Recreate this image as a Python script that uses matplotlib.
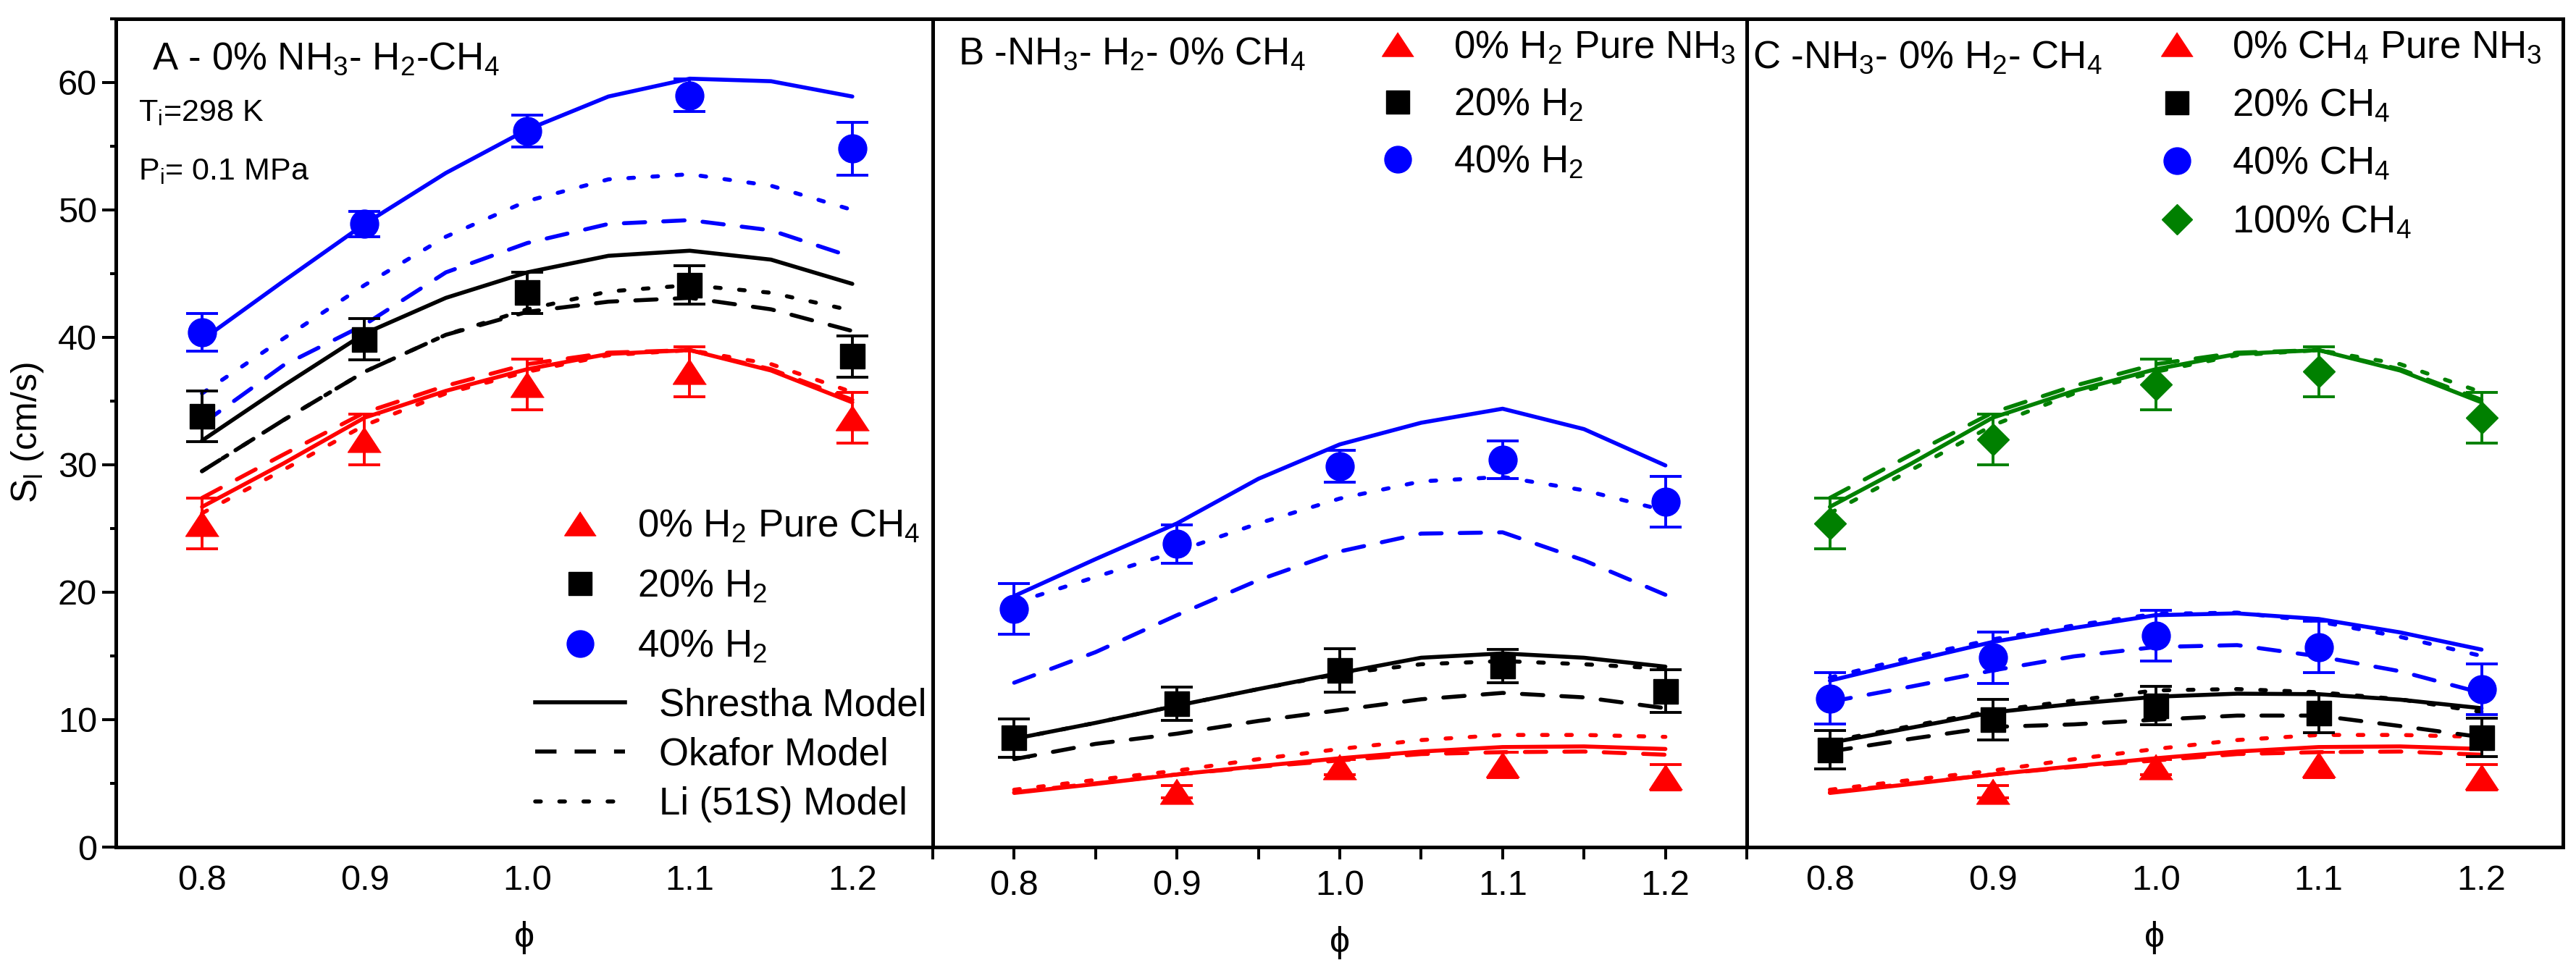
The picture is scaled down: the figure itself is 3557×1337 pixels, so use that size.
import matplotlib
matplotlib.use('Agg')
import matplotlib.pyplot as plt
from matplotlib.lines import Line2D
from matplotlib.ticker import MultipleLocator

plt.rcParams['font.family'] = ['Liberation Sans', 'DejaVu Sans']
plt.rcParams['mathtext.default'] = 'regular'

# equivalence ratios
phi_exp = [0.8, 0.9, 1.0, 1.1, 1.2]
phi_exp_nh3 = [0.9, 1.0, 1.1, 1.2]
phi_mod = [0.80, 0.85, 0.90, 0.95, 1.00, 1.05, 1.10, 1.15, 1.20]

# pure CH4 (panel A red, panel C green)
ch4_exp = [25.4, 32.0, 36.3, 37.3, 33.7]
ch4_err = [2.0, 2.0, 2.0, 1.95, 2.0]
ch4_shr = [26.7, 30.1, 33.7, 35.8, 37.5, 38.7, 39.0, 37.4, 34.9]
ch4_oka = [27.4, 30.8, 34.1, 36.2, 37.9, 38.8, 39.0, 37.5, 35.1]
ch4_li = [26.2, 29.6, 33.1, 35.6, 37.3, 38.6, 39.0, 37.9, 35.7]

# pure NH3 (panel B and C red)
nh3_exp = [4.35, 6.3, 6.45, 5.5]
nh3_err = [0.5, 0.6, 1.0, 1.0]
nh3_shr = [4.25, 4.95, 5.7, 6.35, 6.97, 7.5, 7.85, 7.9, 7.7]
nh3_oka = [4.3, 5.0, 5.7, 6.3, 6.8, 7.3, 7.45, 7.5, 7.25]
nh3_li = [4.5, 5.27, 6.0, 6.9, 7.7, 8.4, 8.8, 8.8, 8.65]

# panel A: H2-CH4
a_h20_exp = [33.8, 39.85, 43.5, 44.1, 38.5]
a_h20_err = [2.0, 1.6, 1.6, 1.5, 1.6]
a_h40_exp = [40.4, 48.9, 56.2, 59.0, 54.8]
a_h40_err = [1.5, 1.0, 1.25, 1.3, 2.1]
a_h20_shr = [31.9, 36.2, 40.3, 43.1, 45.1, 46.4, 46.8, 46.1, 44.2]
a_h20_oka = [29.5, 33.5, 37.3, 40.2, 42.0, 42.8, 43.1, 42.2, 40.5]
a_h20_li = [29.5, 33.5, 37.3, 40.2, 42.2, 43.6, 44.1, 43.5, 42.1]
a_h40_shr = [39.8, 44.4, 48.9, 52.9, 56.3, 58.9, 60.3, 60.1, 58.9]
a_h40_oka = [33.2, 37.8, 41.0, 45.1, 47.4, 48.9, 49.2, 48.4, 46.3]
a_h40_li = [35.6, 39.9, 44.1, 47.9, 50.7, 52.4, 52.8, 51.9, 50.0]

# panel B: NH3-H2
b_h20_exp = [8.56, 11.25, 13.86, 14.2, 12.24]
b_h20_err = [1.5, 1.3, 1.7, 1.3, 1.7]
b_h40_exp = [18.7, 23.8, 29.9, 30.4, 27.1]
b_h40_err = [2.0, 1.5, 1.25, 1.5, 2.0]
b_h20_shr = [8.5, 9.75, 11.1, 12.4, 13.66, 14.86, 15.2, 14.86, 14.16]
b_h20_oka = [6.9, 8.1, 8.9, 9.9, 10.75, 11.6, 12.1, 11.75, 10.9]
b_h20_li = [8.5, 9.75, 11.1, 12.4, 13.6, 14.35, 14.6, 14.35, 14.0]
b_h40_shr = [19.7, 22.6, 25.4, 28.9, 31.6, 33.3, 34.4, 32.8, 29.95]
b_h40_oka = [12.9, 15.3, 18.2, 20.95, 23.2, 24.6, 24.7, 22.5, 19.8]
b_h40_li = [19.15, 21.2, 23.2, 25.4, 27.35, 28.7, 29.05, 28.0, 26.4]

# panel C: NH3-CH4
c_c20_exp = [7.64, 10.0, 11.1, 10.5, 8.6]
c_c20_err = [1.5, 1.57, 1.5, 1.5, 1.5]
c_c40_exp = [11.67, 14.86, 16.6, 15.7, 12.4]
c_c40_err = [2.0, 2.0, 2.0, 2.0, 2.0]
c_c20_shr = [8.18, 9.37, 10.57, 11.24, 11.8, 12.04, 12.0, 11.57, 10.9]
c_c20_oka = [7.5, 8.5, 9.43, 9.63, 10.0, 10.32, 10.32, 9.5, 8.63]
c_c20_li = [8.3, 9.5, 10.7, 11.5, 12.3, 12.4, 12.15, 11.6, 10.6]
c_c40_shr = [13.06, 14.6, 16.1, 17.2, 18.2, 18.34, 17.9, 16.85, 15.5]
c_c40_oka = [11.4, 12.6, 13.86, 14.97, 15.7, 15.85, 14.97, 13.8, 12.1]
c_c40_li = [13.3, 14.9, 16.3, 17.4, 18.3, 18.4, 17.7, 16.5, 15.0]

RED, BLACK, BLUE, GREEN = '#FF0000', '#000000', '#0000FF', '#008000'
TRI = [(0, 0.38), (-0.5, -0.38), (0.5, -0.38)]
MARK = {'tri': (TRI, 33), 'sq': ('s', 24), 'ci': ('o', 28), 'di': ('D', 22)}
LW = 4.0
DASH = (5.3, 4.5)
DOT = (1.4, 4.6)
FS = 38


def models(ax, color, shr, oka, li):
    ax.plot(phi_mod, shr, color=color, lw=LW, solid_capstyle='round', zorder=2)
    ax.plot(phi_mod, oka, color=color, lw=LW, dashes=DASH, dash_capstyle='round', zorder=2)
    ax.plot(phi_mod, li, color=color, lw=LW, dashes=DOT, dash_capstyle='round', zorder=2)


def points(ax, x, y, err, color, kind):
    m, ms = MARK[kind]
    ax.errorbar(x, y, yerr=err, fmt='none', ecolor=color, elinewidth=2.8,
                capsize=16, capthick=2.8, zorder=3)
    ax.plot(x, y, ls='none', marker=m, ms=ms, color=color, mec=color, zorder=4)


def handle(color, kind):
    m, ms = MARK[kind]
    return Line2D([], [], ls='none', marker=m, ms=ms * 0.95, color=color)


def setup(ax, xlim):
    ax.set_xlim(*xlim)
    ax.set_ylim(0, 65)
    for s in ax.spines.values():
        s.set_linewidth(3.6)
    ax.set_xticks([0.8, 0.9, 1.0, 1.1, 1.2])
    ax.set_xticklabels(['0.8', '0.9', '1.0', '1.1', '1.2'])


fig = plt.figure(figsize=(35.57, 13.37), dpi=100)
bottom, height = 0.1249, 0.8557
axA = fig.add_axes([0.04498, bottom, 0.31712, height])
axB = fig.add_axes([0.3621, bottom, 0.3160, height])
axC = fig.add_axes([0.6781, bottom, 0.31684, height])

# ---- panel A
setup(axA, (0.747, 1.2495))
models(axA, RED, ch4_shr, ch4_oka, ch4_li)
models(axA, BLACK, a_h20_shr, a_h20_oka, a_h20_li)
models(axA, BLUE, a_h40_shr, a_h40_oka, a_h40_li)
points(axA, phi_exp, ch4_exp, ch4_err, RED, 'tri')
points(axA, phi_exp, a_h20_exp, a_h20_err, BLACK, 'sq')
points(axA, phi_exp, a_h40_exp, a_h40_err, BLUE, 'ci')
axA.yaxis.set_major_locator(MultipleLocator(10))
axA.yaxis.set_minor_locator(MultipleLocator(5))
axA.tick_params(axis='y', which='major', length=13.7, width=2.9, labelsize=35, pad=5)
axA.tick_params(axis='y', which='minor', length=5.5, width=2.9)
axA.tick_params(axis='x', length=0, labelsize=35, pad=17)
axA.set_ylabel('S$_l$ (cm/s)', fontsize=36, labelpad=12)
axA.set_xlabel('ϕ', fontsize=36, labelpad=24)
axA.text(0.0443, 0.9388, 'A - 0% NH$_3$- H$_2$-CH$_4$', transform=axA.transAxes,
         fontsize=FS, va='baseline')
axA.text(0.0275, 0.8768, 'T$_i$=298 K', transform=axA.transAxes, fontsize=31, va='baseline')
axA.text(0.0275, 0.806, 'P$_i$= 0.1 MPa', transform=axA.transAxes, fontsize=31, va='baseline')
legA1 = axA.legend([handle(RED, 'tri'), handle(BLACK, 'sq'), handle(BLUE, 'ci')],
                   ['0% H$_2$ Pure CH$_4$', '20% H$_2$', '40% H$_2$'],
                   loc='upper left', bbox_to_anchor=(0.5449, 0.409), frameon=False,
                   fontsize=FS, handlelength=1.0, handletextpad=1.0, borderpad=0,
                   borderaxespad=0, labelspacing=0.62)
axA.add_artist(legA1)
line_h = [Line2D([], [], color='k', lw=LW),
          Line2D([], [], color='k', lw=LW, dashes=DASH),
          Line2D([], [], color='k', lw=LW, dashes=DOT, dash_capstyle='round')]
axA.legend(line_h, ['Shrestha Model', 'Okafor Model', 'Li (51S) Model'],
           loc='upper left', bbox_to_anchor=(0.5133, 0.193), frameon=False,
           fontsize=FS, handlelength=2.35, handletextpad=0.89, borderpad=0,
           borderaxespad=0, labelspacing=0.35)

# ---- panel B
setup(axB, (0.75, 1.25))
models(axB, RED, nh3_shr, nh3_oka, nh3_li)
models(axB, BLACK, b_h20_shr, b_h20_oka, b_h20_li)
models(axB, BLUE, b_h40_shr, b_h40_oka, b_h40_li)
points(axB, phi_exp_nh3, nh3_exp, nh3_err, RED, 'tri')
points(axB, phi_exp, b_h20_exp, b_h20_err, BLACK, 'sq')
points(axB, phi_exp, b_h40_exp, b_h40_err, BLUE, 'ci')
axB.set_yticks([])
axB.xaxis.set_minor_locator(MultipleLocator(0.05))
axB.tick_params(axis='x', which='both', length=12, width=2.9, labelsize=35, pad=10)
axB.set_xlabel('ϕ', fontsize=36, labelpad=24)
axB.text(0.0309, 0.945, 'B -NH$_3$- H$_2$- 0% CH$_4$', transform=axB.transAxes,
         fontsize=FS, va='baseline')
axB.legend([handle(RED, 'tri'), handle(BLACK, 'sq'), handle(BLUE, 'ci')],
           ['0% H$_2$ Pure NH$_3$', '20% H$_2$', '40% H$_2$'],
           loc='upper left', bbox_to_anchor=(0.5477, 0.987), frameon=False,
           fontsize=FS, handlelength=1.0, handletextpad=0.96, borderpad=0,
           borderaxespad=0, labelspacing=0.55)

# ---- panel C
setup(axC, (0.749, 1.25))
models(axC, RED, nh3_shr, nh3_oka, nh3_li)
models(axC, BLACK, c_c20_shr, c_c20_oka, c_c20_li)
models(axC, BLUE, c_c40_shr, c_c40_oka, c_c40_li)
models(axC, GREEN, ch4_shr, ch4_oka, ch4_li)
points(axC, phi_exp_nh3, nh3_exp, nh3_err, RED, 'tri')
points(axC, phi_exp, c_c20_exp, c_c20_err, BLACK, 'sq')
points(axC, phi_exp, c_c40_exp, c_c40_err, BLUE, 'ci')
points(axC, phi_exp, ch4_exp, ch4_err, GREEN, 'di')
axC.set_yticks([])
axC.tick_params(axis='x', length=0, labelsize=35, pad=17)
axC.set_xlabel('ϕ', fontsize=36, labelpad=24)
axC.text(0.007, 0.9406, 'C -NH$_3$- 0% H$_2$- CH$_4$', transform=axC.transAxes,
         fontsize=FS, va='baseline')
axC.legend([handle(RED, 'tri'), handle(BLACK, 'sq'), handle(BLUE, 'ci'), handle(GREEN, 'di')],
           ['0% CH$_4$ Pure NH$_3$', '20% CH$_4$', '40% CH$_4$', '100% CH$_4$'],
           loc='upper left', bbox_to_anchor=(0.5036, 0.987), frameon=False,
           fontsize=FS, handlelength=1.0, handletextpad=0.94, borderpad=0,
           borderaxespad=0, labelspacing=0.57)

fig.savefig('out.png', dpi=100)
